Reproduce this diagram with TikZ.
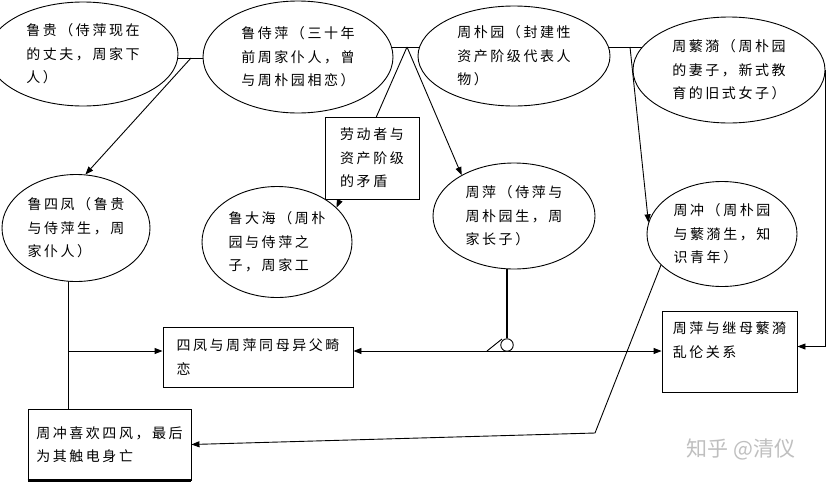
\documentclass[tikz,border=0pt]{standalone}
\usepackage{fontspec}
\newfontfamily\cjk{Noto Sans CJK SC}[LetterSpace=18]
\newfontfamily\cjkmark{Noto Sans CJK SC}
\usetikzlibrary{shapes.geometric,arrows.meta,positioning}
\pgfdeclarelayer{paper}
\pgfdeclarelayer{bg}
\pgfsetlayers{paper,bg,main}

\begin{document}
\begin{tikzpicture}[x=1pt,y=-1pt,
  person/.style={ellipse,draw,fill=white,line width=0.9pt,inner sep=0pt,align=left,font=\fontsize{14}{23.5}\cjk},
  note/.style={rectangle,draw,fill=white,line width=0.9pt,inner sep=0pt,align=left,font=\fontsize{14}{23.5}\cjk},
  link/.style={line width=0.9pt},
  arr/.style={link,-{Triangle[length=8pt,width=6pt]}},
  biarr/.style={link,{Triangle[length=8pt,width=6pt]}-{Triangle[length=8pt,width=6pt]}}]

\begin{pgfonlayer}{paper}
\fill[white] (0,0) rectangle (826,482);
\end{pgfonlayer}
\useasboundingbox (0,0) rectangle (826,482);

%Shape: Ellipse
\node[person,minimum width=190pt,minimum height=104pt] (lugui) at (83,54) {鲁贵（侍萍现在\\的丈夫，周家下\\人）};
%Shape: Ellipse
\node[person,minimum width=190pt,minimum height=112pt] (lushiping) at (298,57) {鲁侍萍（三十年\\前周家仆人，曾\\与周朴园相恋）};
%Shape: Ellipse
\node[person,minimum width=192pt,minimum height=100pt] (zhoupuyuan) at (514,56) {周朴园（封建性\\资产阶级代表人\\物）};
%Shape: Ellipse
\node[person,minimum width=192pt,minimum height=106pt] (zhoufanyi) at (729,70) {周蘩漪（周朴园\\的妻子，新式教\\育的旧式女子）};
%Shape: Ellipse
\node[person,minimum width=148pt,minimum height=107pt] (lusifeng) at (76,228) {鲁四凤（鲁贵\\与侍萍生，周\\家仆人）};
%Shape: Ellipse
\node[person,minimum width=150pt,minimum height=111pt] (ludahai) at (277,242) {鲁大海（周朴\\园与侍萍之\\子，周家工};
%Shape: Ellipse
\node[person,minimum width=162pt,minimum height=106pt] (zhouping) at (514,216) {周萍（侍萍与\\周朴园生，周\\家长子）};
%Shape: Ellipse
\node[person,minimum width=150pt,minimum height=105pt] (zhouchong) at (722,234) {周冲（周朴园\\与蘩漪生，知\\识青年）};

%Shape: Rectangle
\node[note,minimum width=94pt,minimum height=82pt] (maodun) at (372,158) {劳动者与\\资产阶级\\的矛盾};
%Shape: Rectangle
\node[note,minimum width=190pt,minimum height=60pt] (jilian) at (258,357) {四凤与周萍同母异父畸\\恋};
%Shape: Rectangle
\node[note,minimum width=163pt,minimum height=71pt] (chudian) at (109.5,444.5) {周冲喜欢四风，最后\\为其触电身亡};
\draw[line width=2.5pt] (chudian.south west) -- (chudian.south east);
%Shape: Rectangle
\node[note,minimum width=135pt,minimum height=81pt] (luanlun) at (729.5,351.5) {周萍与继母蘩漪\\乱伦关系\\\mbox{}};

%Shape: Circle
\node[circle,draw,fill=white,line width=0.9pt,minimum size=12.5pt,inner sep=0pt] (sw) at (507,345) {};

\coordinate (j1) at (191,58);
\coordinate (j2) at (407,47);
\coordinate (j3) at (630,47);
\coordinate (j4) at (68,351);
\coordinate (j5) at (507,351);
\coordinate (bend) at (595,433);
\coordinate (slasha) at (487,351);
\coordinate (slashb) at (502,339);

\begin{pgfonlayer}{bg}
\draw[link] (lugui.center |- j1) -- (lushiping.center |- j1);
\draw[arr] (j1) -- (lusifeng.80);
\draw[link] (lushiping.center |- j2) -- (zhoupuyuan.center |- j2);
\draw[arr] (j2) -- (ludahai.30);
\draw[arr] (j2) -- (zhouping.142);
\draw[link] (zhoupuyuan.center |- j3) -- (zhoufanyi.center |- j3);
\draw[arr] (j3) -- (zhouchong.171);
\draw[arr] (zhoufanyi.east) |- ([yshift=5pt]luanlun.east);
\draw[link] (j4 |- lusifeng.center) -- (j4 |- chudian.north);
\draw[arr] (j4) -- (jilian.west |- j4);
\draw[biarr] (jilian.east |- j5) -- (luanlun.west |- j5);
\draw[line width=2pt] (sw |- zhouping.center) -- (sw.north);
\draw[link] (slasha) -- (slashb);
\draw[arr] (zhouchong.207) -- (bend) -- (chudian.east);
\end{pgfonlayer}

% Text Node
\node[text=black!25,font=\fontsize{21}{24}\cjkmark] (mark) at (741,449) {知乎 @清仪};

\end{tikzpicture}
\end{document}
